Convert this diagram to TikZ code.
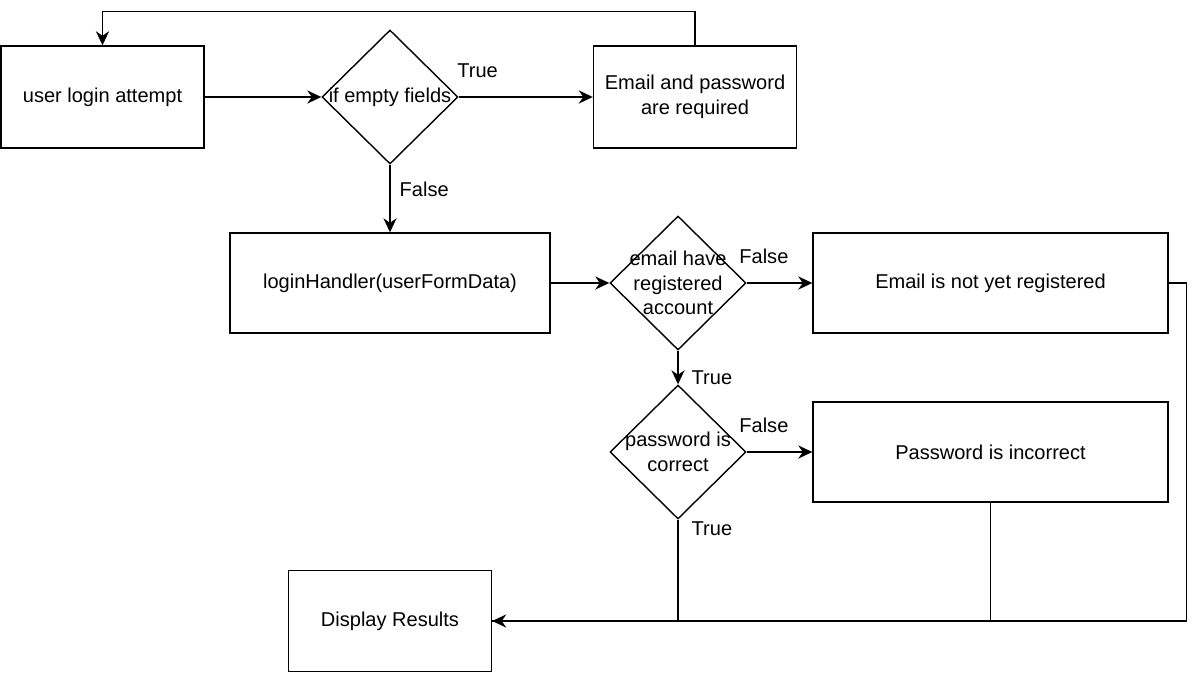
\documentclass[tikz,border=0pt]{standalone}
\usepackage{fontspec}
\setmainfont{Liberation Sans}
\usetikzlibrary{shapes.geometric, positioning, arrows.meta}
\newcommand{\flowfont}{\fontsize{11.4}{14}\selectfont}
\tikzset{->,>={Stealth[length=8pt,width=7.5pt,inset=2.6pt]}}
\tikzset{
box/.style={draw, rectangle, minimum width=4.06cm, minimum height=2.04cm, align=center, font=\flowfont},
decision/.style={draw, diamond, minimum width=2.72cm, minimum height=2.68cm, inner sep=0pt},
dtext/.style={align=center, font=\flowfont, inner sep=0pt},
lbl/.style={inner sep=0pt, font=\flowfont}
}

\begin{document}
\begin{tikzpicture}[line width=0.8pt]
\useasboundingbox (0,0) rectangle (24,-13.48);
\node[box] (login) at (2.05,-1.94) {user login attempt};
\node[decision, right of=login, node distance=5.75cm, label={[dtext]center:if empty fields}] (empty) {};
\node[box, right of=empty, node distance=6.1cm] (required) {Email and password\\are required};
\node[box, below of=empty, node distance=3.72cm, minimum width=6.4cm, minimum height=2cm] (handler) {loginHandler(userFormData)};
\node[decision, right of=handler, node distance=5.76cm, label={[dtext]center:email have\\registered\\account}] (registered) {};
\node[box, right of=registered, node distance=6.25cm, minimum width=7.1cm, minimum height=2cm] (notreg) {Email is not yet registered};
\node[decision, below of=registered, node distance=3.38cm, label={[dtext]center:password is\\correct}] (correct) {};
\node[box, right of=correct, node distance=6.25cm, minimum width=7.1cm, minimum height=2cm] (incorrect) {Password is incorrect};
\node[box, below of=handler, node distance=6.76cm, minimum height=2.02cm] (results) {Display Results};

\node[lbl, above right=0.38cm and -0.04cm of empty.east] (t1) {True};
\node[lbl, below right=0.34cm and 0.18cm of empty.south] (f1) {False};
\node[lbl, above right=0.38cm and -0.16cm of registered.east] (f2) {False};
\node[lbl, below right=0.38cm and 0.26cm of registered.south] (t2) {True};
\node[lbl, above right=0.38cm and -0.16cm of correct.east] (f3) {False};
\node[lbl, below right=0.02cm and 0.26cm of correct.south] (t3) {True};

\draw (login) -- (empty);
\draw (empty) -- (required);
\draw (empty) -- (handler);
\draw (handler) -- (registered);
\draw (registered) -- (notreg);
\draw (registered) -- (correct);
\draw (correct) -- (incorrect);
\draw (required.north) -- ++(0,0.68) -| (login.north);
\draw (correct.south) |- (results.east);
\draw[-] (incorrect.south) |- (results.east);
\draw[-] (notreg.east) -- ++(0.36,0) |- (results.east);
\end{tikzpicture}
\end{document}
